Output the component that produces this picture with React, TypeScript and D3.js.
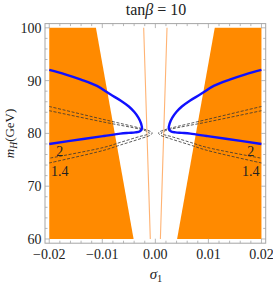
import React from 'react';
import * as d3 from 'd3';

const W = 273;
const H = 284;

const sigmaTicks = [-0.02, -0.01, 0, 0.01, 0.02];
const sigmaTickLabels = ['\u22120.02', '\u22120.01', '0.00', '0.01', '0.02'];
const massTicks = [60, 70, 80, 90, 100];

// excluded (orange) region edge, left side; right side is the mirror
const bandMass = [100, 60];
const bandSigma = [-0.0112, -0.0041];
// thin orange slivers close to sigma = 0
const sliverSigma = [-0.0022, -0.00095];

// blue curve, left branch (mirrored for the right)
const blueSigma = [-0.02, -0.017, -0.014, -0.011, -0.0085, -0.0065, -0.005, -0.004, -0.0032, -0.0027, -0.00254, -0.0029, -0.0038, -0.005, -0.0066, -0.0097, -0.0136, -0.02];
const blueMass = [92.05, 91.2, 90.2, 89.0, 87.4, 86.2, 85.1, 84.1, 83.0, 81.9, 80.9, 80.4, 80.2, 80.1, 79.95, 79.5, 78.95, 78.0];

// dashed contours (left branch)
const outerSigma = [-0.02, -0.01, -0.0029, -0.0012, -0.0006, -0.0009, -0.0025, -0.0066, -0.0097, -0.02];
const outerMass = [85.1, 82.7, 81.0, 80.5, 80.1, 79.7, 79.1, 77.8, 76.8, 74.4];
const innerSigma = [-0.02, -0.01, -0.0029, -0.0016, -0.0011, -0.0015, -0.003, -0.0066, -0.0097, -0.02];
const innerMass = [84.3, 82.2, 80.8, 80.4, 80.05, 79.8, 79.4, 78.3, 77.35, 75.3];

const contourLabels = ['2', '1.4'];
const labelSigma = [0.018, 0.018];
const labelMass = [76.6, 72.8];

const x = d3.scaleLinear().domain([-0.0208, 0.0208]).range([45, 265.7]);
const y = d3.scaleLinear().domain([59.2, 100.8]).range([243.2, 23.6]);

const orange = '#ff8a00';

export default function App() {
  const line = d3
    .line<[number, number]>()
    .x((d) => x(d[0]))
    .y((d) => y(d[1]))
    .curve(d3.curveCatmullRom.alpha(0.5));
  const straight = d3
    .line<[number, number]>()
    .x((d) => x(d[0]))
    .y((d) => y(d[1]));

  const mirror = (pts: [number, number][]) => pts.map((p) => [-p[0], p[1]] as [number, number]);

  const bandLeft: [number, number][] = [
    [-0.02, bandMass[0]],
    [bandSigma[0], bandMass[0]],
    [bandSigma[1], bandMass[1]],
    [-0.02, bandMass[1]],
  ];
  const blue: [number, number][] = blueSigma.map((s, i) => [s, blueMass[i]]);
  const outer: [number, number][] = outerSigma.map((s, i) => [s, outerMass[i]]);
  const inner: [number, number][] = innerSigma.map((s, i) => [s, innerMass[i]]);
  const sliver: [number, number][] = [
    [sliverSigma[0], 100],
    [sliverSigma[1], 60],
  ];

  const minorX = d3.range(-0.02, 0.02001, 0.002);
  const minorY = d3.range(60, 100.01, 2);
  const [x0, x1] = x.range();
  const [y0, y1] = y.range();
  const frame = '#a6a6a6';

  return (
    <svg width={W} height={H} style={{ position: 'absolute', left: 0, top: 0 }} fontFamily="'Liberation Serif', 'DejaVu Serif', serif">
      <rect x={0} y={0} width={W} height={H} fill="white" />
      <path d={straight(bandLeft) + 'Z'} fill={orange} />
      <path d={straight(mirror(bandLeft)) + 'Z'} fill={orange} />
      <path d={straight(sliver)!} stroke="#ffa050" strokeWidth={1.1} fill="none" opacity={0.8} />
      <path d={straight(mirror(sliver))!} stroke="#ffa050" strokeWidth={1.1} fill="none" opacity={0.8} />

      {[outer, inner].map((c, i) => (
        <g key={i} fill="none" stroke="#333" strokeWidth={0.8} strokeDasharray="3,1.6">
          <path d={line(c)!} />
          <path d={line(mirror(c))!} />
        </g>
      ))}

      <path d={line(blue)!} fill="none" stroke="#1010ff" strokeWidth={2.4} />
      <path d={line(mirror(blue))!} fill="none" stroke="#1010ff" strokeWidth={2.4} />

      {contourLabels.map((t, i) => (
        <g key={t} fontSize={14} fill="#222" textAnchor="middle">
          <text x={x(-labelSigma[i])} y={y(labelMass[i])} dy="0.35em">{t}</text>
          <text x={x(labelSigma[i])} y={y(labelMass[i])} dy="0.35em">{t}</text>
        </g>
      ))}

      {/* frame */}
      <rect x={x0} y={y1} width={x1 - x0} height={y0 - y1} fill="none" stroke={frame} strokeWidth={1} />
      <g stroke={frame} strokeWidth={0.8}>
        {minorX.map((v, i) => {
          const major = sigmaTicks.some((t) => Math.abs(t - v) < 1e-9);
          const len = major ? 4.5 : 2.5;
          return (
            <g key={'x' + i}>
              <line x1={x(v)} x2={x(v)} y1={y0} y2={y0 - len} />
              <line x1={x(v)} x2={x(v)} y1={y1} y2={y1 + len} />
            </g>
          );
        })}
        {minorY.map((v, i) => {
          const major = massTicks.includes(Math.round(v));
          const len = major ? 4.5 : 2.5;
          return (
            <g key={'y' + i}>
              <line x1={x0} x2={x0 + len} y1={y(v)} y2={y(v)} />
              <line x1={x1} x2={x1 - len} y1={y(v)} y2={y(v)} />
            </g>
          );
        })}
      </g>

      <g fontSize={14} fill="#222">
        {sigmaTicks.map((t, i) => (
          <text key={t} x={x(t)} y={259} textAnchor="middle">{sigmaTickLabels[i]}</text>
        ))}
        {massTicks.map((t) => (
          <text key={t} x={41.5} y={y(t)} dy="0.35em" textAnchor="end">{t}</text>
        ))}
      </g>

      <text x={156} y={15} textAnchor="middle" fontSize={16} fill="#222">
        tan<tspan fontStyle="italic">β</tspan> = 10
      </text>
      <text x={156} y={279} textAnchor="middle" fontSize={15} fill="#222">
        <tspan fontStyle="italic">σ</tspan>
        <tspan fontSize={10.5} dy={3}>1</tspan>
      </text>
      <text transform={`translate(14, ${(y0 + y1) / 2}) rotate(-90)`} textAnchor="middle" fontSize={13} fill="#222">
        <tspan fontStyle="italic">m</tspan>
        <tspan fontStyle="italic" fontSize={9.5} dy={2.5}>H</tspan>
        <tspan dy={-2.5}>(GeV)</tspan>
      </text>
    </svg>
  );
}
